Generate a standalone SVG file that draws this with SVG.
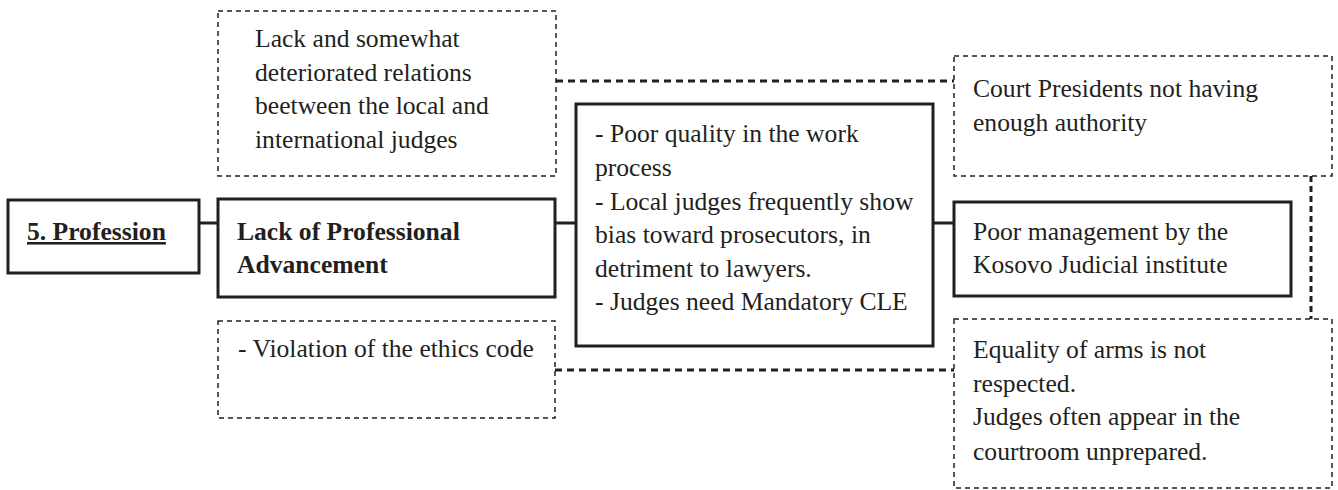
<svg xmlns="http://www.w3.org/2000/svg" width="1338" height="490" viewBox="0 0 1338 490">
<style>
.solid{fill:#fff;stroke:#231f20;stroke-width:3}
.dash{fill:#fff;stroke:#231f20;stroke-width:1.5;stroke-dasharray:5 4}
.t{font-family:"Liberation Serif","Times New Roman",serif;font-size:25.6px;fill:#231f20}
.b{font-weight:bold}
.conn{stroke:#231f20;stroke-width:3;fill:none}
.dconn{stroke:#231f20;stroke-width:3;fill:none;stroke-dasharray:7 5}
.vconn{stroke:#231f20;stroke-width:3;fill:none;stroke-dasharray:6 4}
</style>
<rect width="1338" height="490" fill="#fff"/>
<g id="connectors">
<line class="conn" x1="199" y1="223" x2="218" y2="223"/>
<line class="conn" x1="555" y1="223" x2="576" y2="223"/>
<line class="conn" x1="933" y1="223" x2="954" y2="223"/>
<line class="dconn" x1="556" y1="81" x2="954" y2="81"/>
<line class="dconn" x1="555" y1="370" x2="954" y2="370"/>
<line class="vconn" x1="1311" y1="176" x2="1311" y2="319"/>
</g>
<g id="profession">
<rect class="solid" x="8" y="200" width="191" height="73"/>
<text class="t b" x="27" y="240" text-decoration="underline">5. Profession</text>
</g>
<g id="lack-advancement">
<rect class="solid" x="218" y="199" width="337" height="98"/>
<text class="t b" x="237" y="240">Lack of Professional</text>
<text class="t b" x="237" y="273">Advancement</text>
</g>
<g id="relations">
<rect class="dash" x="218" y="11" width="338" height="165"/>
<text class="t" x="255" y="47">Lack and somewhat</text>
<text class="t" x="255" y="81">deteriorated relations</text>
<text class="t" x="255" y="114">beetween the local and</text>
<text class="t" x="255" y="148">international judges</text>
</g>
<g id="ethics">
<rect class="dash" x="218" y="321" width="337" height="97"/>
<text class="t" x="238" y="357">- Violation of the ethics code</text>
</g>
<g id="quality">
<rect class="solid" x="576" y="104" width="357" height="242"/>
<text class="t" x="595" y="142">- Poor quality in the work</text>
<text class="t" x="595" y="176">process</text>
<text class="t" x="595" y="210">- Local judges frequently show</text>
<text class="t" x="595" y="243">bias toward prosecutors, in</text>
<text class="t" x="595" y="277">detriment to lawyers.</text>
<text class="t" x="595" y="310">- Judges need Mandatory CLE</text>
</g>
<g id="court-presidents">
<rect class="dash" x="954" y="56" width="378" height="120"/>
<text class="t" x="973" y="97">Court Presidents not having</text>
<text class="t" x="973" y="131">enough authority</text>
</g>
<g id="management">
<rect class="solid" x="954" y="202" width="337" height="94"/>
<text class="t" x="973" y="240">Poor management by the</text>
<text class="t" x="973" y="273">Kosovo Judicial institute</text>
</g>
<g id="equality">
<rect class="dash" x="954" y="319" width="378" height="169"/>
<text class="t" x="973" y="358">Equality of arms is not</text>
<text class="t" x="973" y="392">respected.</text>
<text class="t" x="973" y="425">Judges often appear in the</text>
<text class="t" x="973" y="460">courtroom unprepared.</text>
</g>
</svg>
